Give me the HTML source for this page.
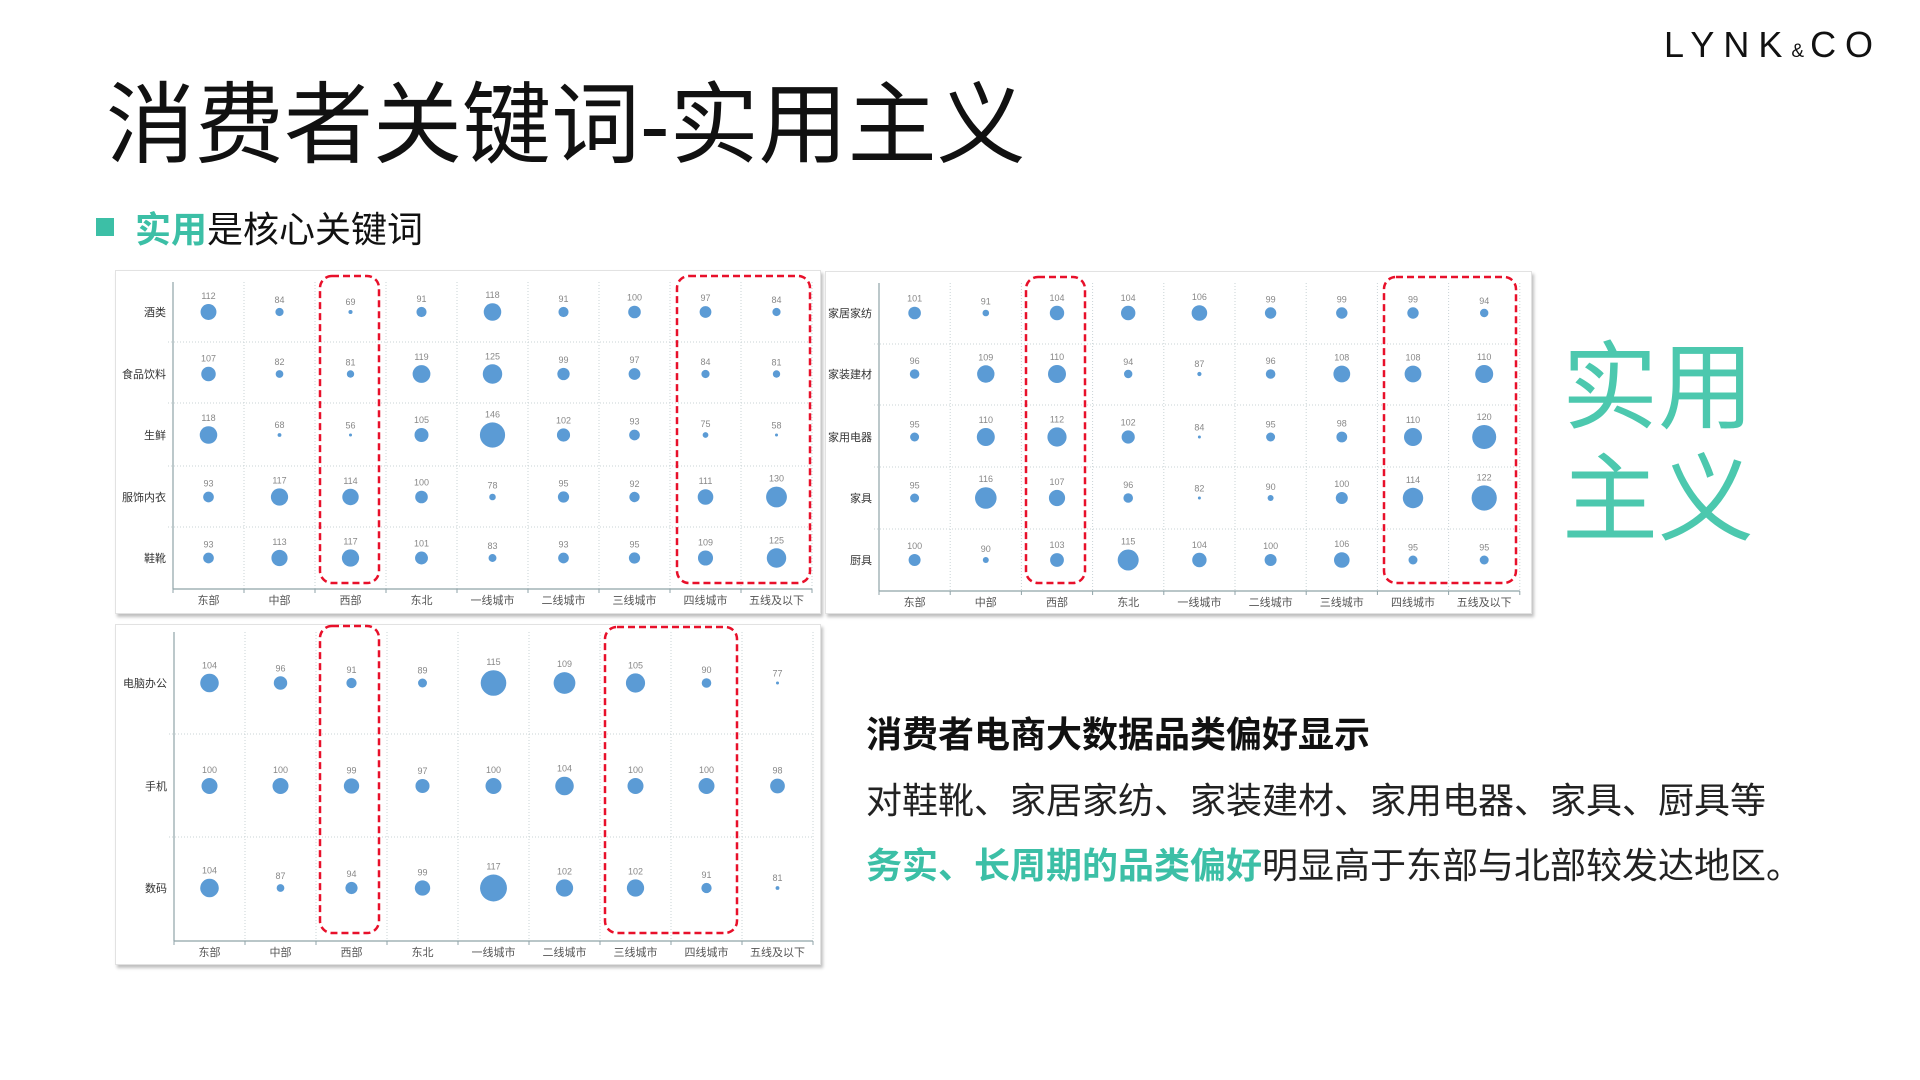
<!DOCTYPE html>
<html><head><meta charset="utf-8">
<style>
html,body{margin:0;padding:0;background:#fff;}
body{width:1920px;height:1080px;position:relative;overflow:hidden;font-family:"Liberation Sans","Noto Sans CJK SC",sans-serif;}
.abs{position:absolute;}
.logo{left:1664px;top:24px;font-size:36px;letter-spacing:9px;color:#111;font-weight:normal;white-space:nowrap;font-family:"Liberation Sans",sans-serif;}
.logo .amp{font-size:19px;letter-spacing:6px;}
.title{left:106px;top:77px;font-size:89px;color:#111;white-space:nowrap;line-height:1.1;}
.bul{left:96px;top:218px;width:18px;height:18px;background:#3cbfa6;}
.sub{left:135px;top:201px;font-size:36px;color:#111;white-space:nowrap;}
.teal{color:#3cbfa6;font-weight:bold;}
.panel{background:#fff;border:1px solid #e2e2e2;box-shadow:2px 3px 3px rgba(0,0,0,0.25);}
.big{left:1562px;top:333px;font-size:96px;line-height:112px;color:#4cc8ae;}
.t1{left:866px;top:706px;font-size:36px;font-weight:bold;color:#111;white-space:nowrap;}
.t2{left:866px;top:772px;font-size:36px;color:#222;white-space:nowrap;}
.t3{left:866px;top:837px;font-size:36px;color:#222;white-space:nowrap;}
svg text{font-family:"Liberation Sans","Noto Sans CJK SC",sans-serif;}
</style></head><body>
<div class="abs logo">LYNK<span class="amp">&amp;</span>CO</div>
<div class="abs title">消费者关键词-实用主义</div>
<div class="abs bul"></div>
<div class="abs sub"><span class="teal">实用</span>是核心关键词</div>

<div class="abs panel" style="left:115px;top:270px;width:704px;height:342px;"></div>
<div class="abs panel" style="left:825px;top:271px;width:705px;height:341px;"></div>
<div class="abs panel" style="left:115px;top:624px;width:704px;height:339px;"></div>

<svg class="abs" id="svg" style="left:0;top:0" width="1920" height="1080"></svg>

<div class="abs big">实用<br>主义</div>
<div class="abs t1">消费者电商大数据品类偏好显示</div>
<div class="abs t2">对鞋靴、家居家纺、家装建材、家用电器、家具、厨具等</div>
<div class="abs t3"><span class="teal">务实、长周期的品类偏好</span>明显高于东部与北部较发达地区。</div>

<script>
var NS="http://www.w3.org/2000/svg";
var svg=document.getElementById('svg');
function el(t,a,txt){var e=document.createElementNS(NS,t);for(var k in a)e.setAttribute(k,a[k]);if(txt!=null)e.textContent=txt;svg.appendChild(e);return e;}
var cols=["东部","中部","西部","东北","一线城市","二线城市","三线城市","四线城市","五线及以下"];
function chart(c){
  var x0=c.x0,cw=c.cw,top=c.top,bot=c.bot,n=c.rows.length;
  var right=x0+cw*9;
  for(var i=1;i<=9;i++){el('line',{x1:x0+cw*i,y1:top,x2:x0+cw*i,y2:bot,stroke:'#c9d3d6','stroke-width':1,'stroke-dasharray':'1,2'});}
  for(var j=0;j<c.hl.length;j++){el('line',{x1:x0-5,y1:c.hl[j],x2:right,y2:c.hl[j],stroke:'#c9d3d6','stroke-width':1,'stroke-dasharray':'1,2'});}
  el('line',{x1:x0,y1:top,x2:x0,y2:bot,stroke:'#8fa3a8','stroke-width':1.2});
  el('line',{x1:x0,y1:bot,x2:right,y2:bot,stroke:'#8fa3a8','stroke-width':1.2});
  for(var i=0;i<=9;i++)el('line',{x1:x0+cw*i,y1:bot,x2:x0+cw*i,y2:bot+4,stroke:'#8fa3a8'});
  for(var i=0;i<9;i++)el('text',{x:x0+cw*i+cw/2,y:bot+15,'font-size':11,fill:'#555','text-anchor':'middle'},cols[i]);
  for(var r=0;r<n;r++){
    var cy=c.cy[r];
    el('text',{x:x0-7,y:cy+4,'font-size':11,fill:'#333','text-anchor':'end'},c.rows[r]);
    for(var i=0;i<9;i++){
      var v=c.data[r][i];var rad=Math.max(1.5,(v-c.base)*c.k);
      var cx=x0+cw*i+cw/2;
      el('circle',{cx:cx,cy:cy,r:rad,fill:'#5b9bd5'});
      el('text',{x:cx,y:cy-rad-5,'font-size':9,fill:'#888','text-anchor':'middle'},v);
    }
  }
  for(var b=0;b<c.boxes.length;b++){var B=c.boxes[b];
    el('rect',{x:B[0],y:B[1],width:B[2]-B[0],height:B[3]-B[1],rx:12,ry:12,fill:'none',stroke:'#e8102a','stroke-width':2.5,'stroke-dasharray':'7,4'});}
}
chart({x0:173,cw:71,top:282,bot:589,hl:[342,403,466,527],cy:[312,374,435,497,558],base:54,k:0.137,
 rows:["酒类","食品饮料","生鲜","服饰内衣","鞋靴"],
 data:[[112,84,69,91,118,91,100,97,84],[107,82,81,119,125,99,97,84,81],[118,68,56,105,146,102,93,75,58],[93,117,114,100,78,95,92,111,130],[93,113,117,101,83,93,95,109,125]],
 boxes:[[320,276,379,583],[677,276,810,583]]});
chart({x0:879,cw:71.2,top:283,bot:591,hl:[344,405,467,529],cy:[313,374,437,498,560],base:80,k:0.3,
 rows:["家居家纺","家装建材","家用电器","家具","厨具"],
 data:[[101,91,104,104,106,99,99,99,94],[96,109,110,94,87,96,108,108,110],[95,110,112,102,84,95,98,110,120],[95,116,107,96,82,90,100,114,122],[100,90,103,115,104,100,106,95,95]],
 boxes:[[1026,277,1085,583],[1384,277,1516,583]]});
chart({x0:174,cw:71,top:632,bot:941,hl:[734,837],cy:[683,786,888],base:75,k:0.32,
 rows:["电脑办公","手机","数码"],
 data:[[104,96,91,89,115,109,105,90,77],[100,100,99,97,100,104,100,100,98],[104,87,94,99,117,102,102,91,81]],
 boxes:[[320,626,379,933],[605,627,737,933]]});
</script>
</body></html>
